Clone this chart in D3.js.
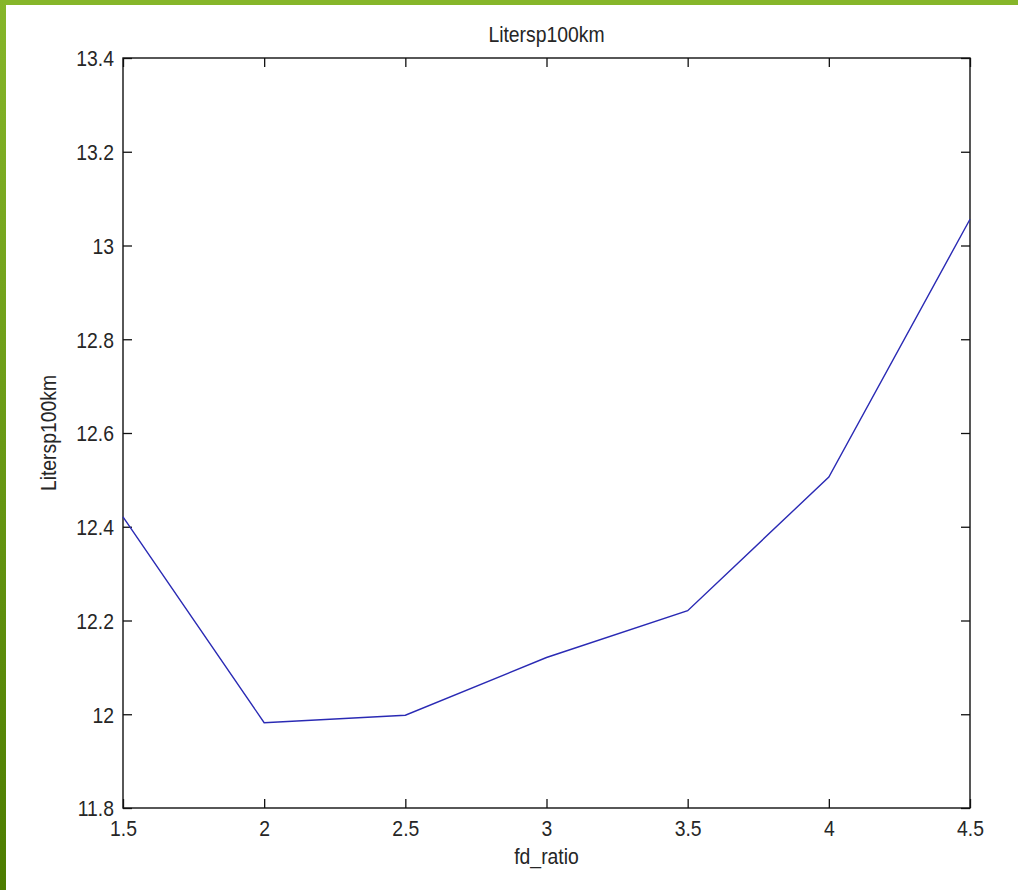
<!DOCTYPE html>
<html><head><meta charset="utf-8">
<script src="https://cdn.jsdelivr.net/npm/d3@7"></script>
<style>html,body{margin:0;padding:0;background:#fff;}svg{display:block;}</style>
</head><body>
<script>
const xValues = [1.5, 2, 2.5, 3, 3.5, 4, 4.5];
const yValues = [12.421, 11.982, 11.998, 12.121, 12.221, 12.506, 13.056];
const xTicks = [1.5, 2, 2.5, 3, 3.5, 4, 4.5];
const yTicks = [11.8, 12, 12.2, 12.4, 12.6, 12.8, 13, 13.2, 13.4];
const titleText = "Litersp100km";
const xLabel = "fd_ratio";
const yLabel = "Litersp100km";

const W = 1018, H = 890;
const L = 123, T = 58, R = 970, B = 808;
const font = "Arial, 'Liberation Sans', sans-serif";
const FS = 22, SX = 0.88;
const svg = d3.select("body").append("svg").attr("width", W).attr("height", H);

const defs = svg.append("defs");
const g1 = defs.append("linearGradient").attr("id","lg").attr("x1",0).attr("y1",0).attr("x2",0).attr("y2",1);
g1.append("stop").attr("offset","0%").attr("stop-color","#86b62a");
g1.append("stop").attr("offset","100%").attr("stop-color","#4c7c00");
svg.append("rect").attr("x",0).attr("y",0).attr("width",W).attr("height",H).attr("fill","#fff");
svg.append("rect").attr("x",0).attr("y",0).attr("width",W).attr("height",5).attr("fill","#86b62a");
svg.append("rect").attr("x",0).attr("y",0).attr("width",6).attr("height",H).attr("fill","url(#lg)");

const x = d3.scaleLinear().domain([1.5, 4.5]).range([L, R]);
const y = d3.scaleLinear().domain([11.8, 13.4]).range([B, T]);
const tl = 9;
const fmt = d => String(+d.toFixed(2));

const gb = svg.append("g").attr("transform",`translate(0,${B})`)
  .call(d3.axisBottom(x).tickValues(xTicks).tickSizeInner(-tl).tickSizeOuter(0).tickPadding(12).tickFormat(fmt));
const gt = svg.append("g").attr("transform",`translate(0,${T})`)
  .call(d3.axisTop(x).tickValues(xTicks).tickSizeInner(-tl).tickSizeOuter(0).tickFormat(""));
const gl = svg.append("g").attr("transform",`translate(${L},0)`)
  .call(d3.axisLeft(y).tickValues(yTicks).tickSizeInner(-tl).tickSizeOuter(0).tickPadding(9).tickFormat(fmt));
const gr = svg.append("g").attr("transform",`translate(${R},0)`)
  .call(d3.axisRight(y).tickValues(yTicks).tickSizeInner(-tl).tickSizeOuter(0).tickFormat(""));

[gb,gt,gl,gr].forEach(g=>{
  g.select(".domain").remove();
  g.selectAll(".tick line").attr("stroke","#111").attr("stroke-width",1.3);
  g.selectAll(".tick text").attr("fill","#262626").style("font-family",font).style("font-size",FS+"px");
});
gl.selectAll(".tick text").attr("dy","0.36em");
// narrow the glyphs horizontally (reference font is taller/narrower)
svg.selectAll(".tick text").each(function(){
  const t = d3.select(this);
  const tx = +t.attr("x") || 0, ty = +t.attr("y") || 0;
  t.attr("x",0).attr("y",0).attr("transform",`translate(${tx},${ty}) scale(${SX},1)`);
});

svg.append("rect").attr("x",L).attr("y",T).attr("width",R-L).attr("height",B-T)
  .attr("fill","none").attr("stroke","#111").attr("stroke-width",1.4);

const line = d3.line().x((d,i)=>x(xValues[i])).y(d=>y(d));
svg.append("path").datum(yValues).attr("d",line).attr("fill","none")
  .attr("stroke","#2a2ab4").attr("stroke-width",1.4);

function label(txt, tx, ty, rot){
  svg.append("text").attr("transform",`translate(${tx},${ty}) rotate(${rot}) scale(${SX},1)`)
    .attr("text-anchor","middle").attr("fill","#262626")
    .style("font-family",font).style("font-size",FS+"px").text(txt);
}
label(titleText, (L+R)/2, 42, 0);
label(xLabel, (L+R)/2, 864, 0);
label(yLabel, 56, (T+B)/2, -90);
</script>
</body></html>
